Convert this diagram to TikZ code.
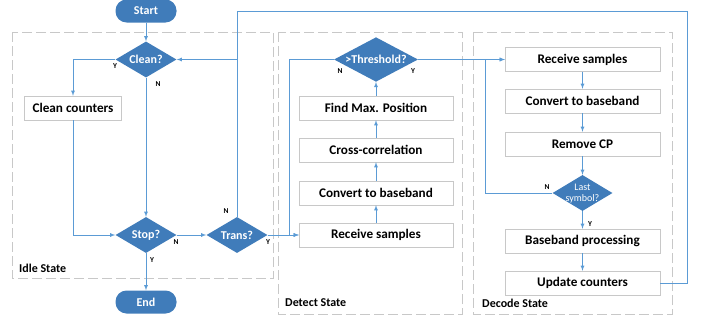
\documentclass[tikz,border=0pt]{standalone}
\usepackage{fontspec}
\setmainfont{Carlito}
\usetikzlibrary{shapes.geometric,arrows,positioning}
\definecolor{flowblue}{RGB}{64,124,186}
\definecolor{linkblue}{RGB}{91,155,213}
\definecolor{boxgray}{RGB}{200,200,200}
\definecolor{framegray}{RGB}{200,200,200}
\tikzstyle{term}=[rectangle,rounded corners=11pt,fill=flowblue,text=white,font=\bfseries\fontsize{12}{12}\selectfont,minimum width=61pt,minimum height=23pt,inner sep=0pt]
\tikzstyle{dec}=[diamond,aspect=1.7,fill=flowblue,text=white,font=\bfseries\fontsize{12}{12}\selectfont,minimum width=61pt,minimum height=36pt,inner sep=0pt]
\tikzstyle{proc}=[rectangle,draw=boxgray,fill=white,font=\bfseries\fontsize{13.2}{13.2}\selectfont,minimum height=24pt,inner sep=0pt]
\tikzstyle{statebox}=[draw=framegray,dash pattern=on 10pt off 4pt,line width=0.9pt]
\tikzstyle{lnk}=[draw=linkblue,line width=0.8pt]
\tikzstyle{arr}=[lnk,-latex]
\tikzstyle{yn}=[font=\bfseries\fontsize{7.5}{7.5}\selectfont,inner sep=0pt]
\tikzstyle{statelbl}=[font=\bfseries\fontsize{12}{12}\selectfont,anchor=west,inner sep=0pt]

\begin{document}
\begin{tikzpicture}[x=1pt,y=-1pt]
\useasboundingbox (0,0) rectangle (704,324);
% state frames
\draw[statebox] (12,32) rectangle (273,278);
\draw[statebox] (278,32) rectangle (462,314);
\draw[statebox] (473,32) rectangle (672,314);
\node[statelbl] (idle) at (19,268) {Idle State};
\node[statelbl] (detect) at (285,303) {Detect State};
\node[statelbl] (decode) at (482,303) {Decode State};

% idle state
\node[term] (start) at (146,11) {Start};
\node[dec] (clean) at (146,59.5) {Clean?};
\node[proc,minimum width=97pt] (cleancnt) at (73,108) {Clean counters};
\node[dec] (stop) at (146,235) {Stop?};
\node[dec] (trans) at (237,235) {Trans?};
\node[term] (end) at (146,302) {End};

% detect state
\node[proc,minimum width=154pt] (recvD) at (376,235) {Receive samples};
\node[proc,minimum width=154pt] (convD) at (376,193) {Convert to baseband};
\node[proc,minimum width=154pt] (xcorr) at (376,150) {Cross-correlation};
\node[proc,minimum width=154pt] (findmax) at (376,108) {Find Max. Position};
\node[dec,minimum width=84pt] (thresh) at (376,59.5) {>Threshold?};

% decode state
\node[proc,minimum width=155pt] (recvE) at (582.5,59.5) {Receive samples};
\node[proc,minimum width=155pt] (convE) at (582.5,101) {Convert to baseband};
\node[proc,minimum width=155pt] (remcp) at (582.5,144) {Remove CP};
\node[dec,minimum width=60pt] (last) at (582.5,193) {};
\node[text=white,font=\fontsize{10}{11}\selectfont,align=center] (lasttxt) at (582.5,194) {Last\\symbol?};
\node[proc,minimum width=155pt] (bbproc) at (582.5,241) {Baseband processing};
\node[proc,minimum width=155pt] (update) at (582.5,283) {Update counters};

\coordinate (topright) at (687,11);
\coordinate (detloop) at (289,235);
\coordinate (decloop) at (485,193);

% connectors
\draw[arr] (start) -- (clean);
\draw[arr] (clean.west) -| (cleancnt.north);
\draw[arr] (clean) -- (stop);
\draw[arr] (cleancnt.south) |- (stop.west);
\draw[arr] (stop) -- (end);
\draw[arr] (stop) -- (trans);
\draw[arr] (trans.north) |- (clean.east);
\draw[lnk] (update.east) -| (topright) -| (trans.north);
\draw[arr] (trans.east) -- (recvD.west);
\draw[arr] (recvD) -- (convD);
\draw[arr] (convD) -- (xcorr);
\draw[arr] (xcorr) -- (findmax);
\draw[arr] (findmax) -- (thresh);
\draw[arr] (thresh.west) -| (detloop) -- (recvD.west);
\draw[arr] (thresh.east) -- (recvE.west);
\draw[arr] (recvE) -- (convE);
\draw[arr] (convE) -- (remcp);
\draw[arr] (remcp) -- (last);
\draw[arr] (last.west) -- (decloop) |- (recvE.west);
\draw[arr] (last) -- (bbproc);
\draw[arr] (bbproc) -- (update);

% Y/N labels
\node[yn] (cleanY) at (115,66) {Y};
\node[yn] (cleanN) at (158,84) {N};
\node[yn] (stopN) at (176,242) {N};
\node[yn] (stopY) at (152,260) {Y};
\node[yn] (transN) at (226,211) {N};
\node[yn] (transY) at (268,242) {Y};
\node[yn] (threshN) at (340,71) {N};
\node[yn] (threshY) at (413,71) {Y};
\node[yn] (lastN) at (547,187) {N};
\node[yn] (lastY) at (590,224) {Y};
\end{tikzpicture}
\end{document}
